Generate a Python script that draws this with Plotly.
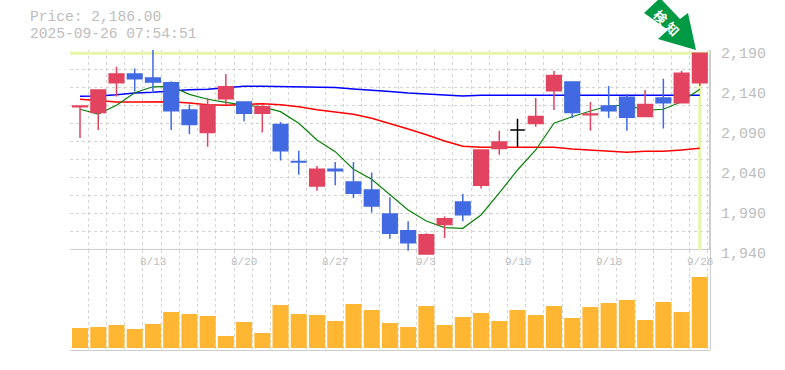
import plotly.graph_objects as go

dates = ["8/6","8/7","8/8","8/12","8/13","8/14","8/15","8/18","8/19","8/20","8/21","8/22","8/25","8/26","8/27",
         "8/28","8/29","9/1","9/2","9/3","9/4","9/5","9/8","9/9","9/10","9/11","9/12","9/16","9/17","9/18",
         "9/19","9/22","9/24","9/25","9/26"]
tick_dates = ["8/13","8/20","8/27","9/3","9/10","9/18","9/26"]
price_labels = [1940,1990,2040,2090,2140,2190]

opens  = [2119,2112,2149,2160,2155,2149,2115,2087,2129,2125,2111,2097,2050.5,2020,2041,2025,2015,1985,1964,1935,1972,2000,2021,2067,2090,2098,2139,2150,2109,2120,2131,2107,2130,2124,2149]
highs  = [2120,2140,2169,2167,2195,2151,2122,2130,2160,2125,2121,2100,2064,2045,2050,2050,2037,2006,1976,1961,1982,2010,2065,2089,2104,2130,2164,2150,2125,2145,2135,2140,2154,2164,2186]
lows   = [2080,2090,2132,2138,2136,2090,2085,2069,2121,2101,2087,2052,2034,2014,2021,2005,1987,1954,1939,1935,1955,1976,2017,2059,2069,2094,2115,2105,2089,2105,2089,2107,2092,2124,2145]
closes = [2120,2140,2160,2154,2150,2114,2097,2121,2144,2111,2119,2064,2050,2041,2039,2011,1995,1961,1949,1959,1979,1984,2065,2075,2090,2107,2158,2112,2110,2114,2106,2122,2124,2161,2186]

ma_short = [2115.9,2110,2121,2136.6,2144,2144.6,2134.6,2128.4,2124.6,2121,2119,2112.9,2098.4,2077.5,2062.9,2040.9,2028.4,2008.8,1990,1976.3,1967.9,1967.1,1983.8,2011.3,2040,2065,2098.4,2106.6,2113.8,2120,2121,2114.6,2115.9,2125.4,2140.9]
ma_mid   = [2128.4,2126.6,2125,2125,2125.4,2125.4,2123.8,2121.6,2121,2122.1,2122.9,2121.6,2119.1,2115.4,2112.9,2109.6,2104.6,2098.4,2091.3,2084.1,2076.3,2069.6,2068.4,2068.4,2068.4,2068.4,2068.4,2066.3,2065,2063.8,2062.1,2063.4,2063.4,2065,2067.1]
ma_long  = [2132.1,2132.5,2134.1,2136.3,2137.1,2139.1,2140.4,2140.9,2142.9,2144.6,2144.6,2144.4,2144.4,2143.8,2143.1,2141.3,2140,2138.1,2136.3,2135,2133.4,2132.5,2133.4,2133.4,2133.4,2133.4,2133.4,2133.4,2133.4,2134.3,2134.3,2134.3,2133.4,2133.4,2133.4]
volumes  = [20000,21000,23000,19000,24000,36000,34000,32000,12000,26000,15000,43000,34000,33000,27000,44000,38000,25000,21000,42000,23000,31000,35000,27000,38000,33000,42000,30000,41000,45000,48000,28000,46000,36000,71000]

GREY = "#bdbdbd"; GRID = "#d4d4d4"; BAND = "#e6f6a8"
UP = "#e2435f"; DOWN = "#4169e1"
L, R, T, B = 70, 710, 50, 350
W, H = 785, 370
px = lambda x: (x - L) / (R - L)
py = lambda y: (B - y) / (B - T)

idx = list(range(len(dates)))
x_lo, x_hi = -0.55, 34.56
flat = [i for i in idx if opens[i] == closes[i]]
rest = [i for i in idx if i not in flat]

fig = go.Figure()
last = idx[-1]
fig.add_trace(go.Scatter(x=[x_lo, x_hi], y=[closes[-1]]*2, mode="lines", line=dict(color=BAND, width=3), zorder=0, yaxis="y", hoverinfo="skip"))
fig.add_trace(go.Scatter(x=[last, last], y=[closes[-1], price_labels[0]], mode="lines", line=dict(color=BAND, width=3), zorder=0, yaxis="y", hoverinfo="skip"))
fig.add_trace(go.Scatter(x=idx, y=ma_long, mode="lines", line=dict(color="#0000ff", width=1.5), zorder=1))
fig.add_trace(go.Scatter(x=idx, y=ma_mid, mode="lines", line=dict(color="#ff0000", width=1.5), zorder=1))
fig.add_trace(go.Scatter(x=idx, y=ma_short, mode="lines", line=dict(color="#0a800a", width=1.2), zorder=1))
fig.add_trace(go.Candlestick(
    x=rest, open=[opens[i] for i in rest], high=[highs[i] for i in rest],
    low=[lows[i] for i in rest], close=[closes[i] for i in rest],
    increasing=dict(line=dict(color=UP, width=1.5), fillcolor=UP),
    decreasing=dict(line=dict(color=DOWN, width=1.5), fillcolor=DOWN),
    whiskerwidth=0, zorder=2))
fig.add_trace(go.Candlestick(
    x=flat, open=[opens[i] for i in flat], high=[highs[i] for i in flat],
    low=[lows[i] for i in flat], close=[closes[i] for i in flat],
    increasing=dict(line=dict(color="#000000", width=1.5), fillcolor="#000000"),
    decreasing=dict(line=dict(color="#000000", width=1.5), fillcolor="#000000"),
    whiskerwidth=0, zorder=2))
fig.add_trace(go.Bar(x=idx, y=volumes, yaxis="y2", width=0.88, marker=dict(color="#ffb733", line=dict(width=0))))

frame = dict(type="line", xref="paper", yref="paper", line=dict(color=GREY, width=1.5), layer="below")
arrow = [(644,13),(658,0),(662,0),(680,19),(688,13),(696,50),(658,39),(668,30)]
path = "M " + " L ".join(f"{px(a):.4f},{py(b):.4f}" for a, b in arrow) + " Z"
shapes = [
    dict(frame, x0=0, x1=1, y0=py(250), y1=py(250)),
    dict(frame, x0=0, x1=1, y0=0, y1=0),
    dict(frame, x0=1, x1=1, y0=0, y1=1),
    dict(type="path", xref="paper", yref="paper", path=path, fillcolor="#009944", line=dict(width=0), layer="below"),
]
txt = dict(xref="paper", yref="paper", showarrow=False, xanchor="left", yanchor="middle", borderpad=0,
           font=dict(family="Liberation Mono", size=14.6, color=GREY))
mark = dict(xref="paper", yref="paper", showarrow=False, xanchor="center", yanchor="middle", textangle=45,
            borderpad=0, font=dict(family="Noto Sans CJK JP", size=13, color="#ffffff"))
date_text = dict(xref="x", yref="paper", y=py(262), showarrow=False, xanchor="center", yanchor="middle", borderpad=0,
                 font=dict(family="Liberation Mono", size=11, color=GREY))
annotations = [
    dict(txt, x=px(29), y=py(17.3), text=f"Price: {closes[-1]:,.2f}"),
    dict(txt, x=px(29), y=py(33.8), text="2025-09-26 07:54:51"),
    dict(mark, x=px(660.5), y=py(17), text="<b>検</b>"),
    dict(mark, x=px(672.5), y=py(29), text="<b>知</b>"),
] + [dict(date_text, x=dates.index(d), text=d) for d in tick_dates]
grid_minor = dict(showgrid=True, gridcolor=GRID, griddash="3px,3px", gridwidth=1, ticklen=0)
offset_yen = 3.75  # labels sit 3px below their level
fig.update_layout(
    width=W, height=H, margin=dict(l=L, r=W-R, t=T, b=H-B, pad=0, autoexpand=False),
    paper_bgcolor="white", plot_bgcolor="white", showlegend=False, boxgap=0.2, boxgroupgap=0, bargap=0.12,
    shapes=shapes, annotations=annotations,
    xaxis=dict(range=[x_lo, x_hi], anchor="y", rangeslider=dict(visible=False),
               showticklabels=False, ticks="", showgrid=False, zeroline=False, showline=False,
               minor=dict(grid_minor, tick0=x_lo, dtick=1)),
    yaxis=dict(domain=[py(255), 1], range=[1940-5*1.25, 2190], side="right", anchor="x",
               tickmode="array", tickvals=[v - offset_yen for v in price_labels],
               ticktext=[f"{v:,}" for v in price_labels],
               tickfont=dict(family="Liberation Mono", size=15, color=GREY), ticks="outside", ticklen=7,
               tickcolor="rgba(0,0,0,0)", showgrid=False, zeroline=False, showline=False,
               minor=dict(grid_minor, tick0=1940, dtick=22.62)),
    yaxis2=dict(domain=[0, py(250)], range=[-2000, 98000], showticklabels=False, showgrid=False,
                zeroline=False, ticks="", anchor="x"),
)
fig.write_html("out.html", config={"displayModeBar": False},
               post_script="document.body.style.margin='0';document.body.style.overflow='hidden';")
